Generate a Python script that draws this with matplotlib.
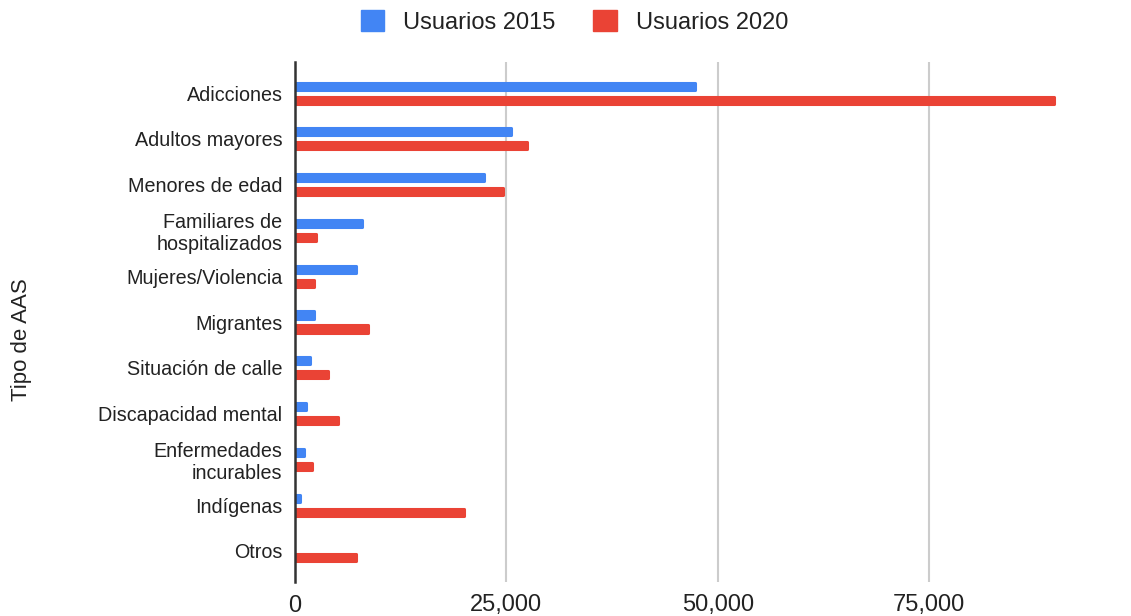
import matplotlib
matplotlib.use("Agg")
import matplotlib.pyplot as plt
from matplotlib.patches import FancyBboxPatch
import numpy as np

plt.rcParams['font.family'] = ['Liberation Sans', 'DejaVu Sans']

categorias = ["Adicciones", "Adultos mayores", "Menores de edad",
              "Familiares de\nhospitalizados", "Mujeres/Violencia", "Migrantes",
              "Situación de calle", "Discapacidad mental",
              "Enfermedades\nincurables", "Indígenas", "Otros"]
usuarios_2015 = [47300, 25500, 22400, 7950, 7250, 2250, 1770, 1300, 1060, 590, 0]
usuarios_2020 = [89800, 27400, 24550, 2450, 2250, 8650, 3900, 5080, 1980, 20000, 7200]
xticks = [0, 25000, 50000, 75000]

azul = "#4285f4"
rojo = "#ea4335"
texto = "#222222"

fig = plt.figure(figsize=(11.31, 6.16), dpi=100)
ax = fig.add_axes([295 / 1131, 34 / 616, 815 / 1131, 520 / 616])

y = np.arange(len(categorias))
off = 0.153
h = 0.155
b1 = ax.barh(y - off, usuarios_2015, height=h, color=azul, edgecolor=azul,
             linewidth=2.2, zorder=3)
b2 = ax.barh(y + off, usuarios_2020, height=h, color=rojo, edgecolor=rojo,
             linewidth=2.2, zorder=3)
for p in list(b1) + list(b2):
    p.set_joinstyle("round")
    if p.get_width() == 0:
        p.set_visible(False)

ax.set_ylim(len(categorias) - 1 + 0.68, -0.68)
ax.set_xlim(0, 96400)
ax.set_yticks(y)
ax.set_yticklabels(categorias, fontsize=14.2, color=texto, ha="right",
                   linespacing=1.2)
ax.set_xticks(xticks)
ax.set_xticklabels([f"{v:,}" for v in xticks], fontsize=17, color=texto)
ax.tick_params(axis="both", length=0)
ax.tick_params(axis="y", pad=9)
ax.tick_params(axis="x", pad=9)

ax.grid(axis="x", color="#cccccc", linewidth=1.5, zorder=0)
ax.xaxis.get_gridlines()[0].set_visible(False)
for s in ["top", "right", "bottom"]:
    ax.spines[s].set_visible(False)
ax.spines["left"].set_color("#333333")
ax.spines["left"].set_linewidth(1.8)
ax.spines["left"].set_zorder(4)

fig.text(22 / 1131, 1 - 340 / 616, "Tipo de AAS", rotation=90, fontsize=16,
         color=texto, ha="center", va="center")

# legend
handles = [FancyBboxPatch((0, 0), 1, 1, boxstyle="round,pad=0,rounding_size=0.15",
                          color=c) for c in (azul, rojo)]
fig.legend(handles, ["Usuarios 2015", "Usuarios 2020"], loc="center",
           bbox_to_anchor=(0.508, 1 - 22 / 616), ncol=2, frameon=False,
           fontsize=17, handlelength=1.0, handleheight=1.0, handletextpad=0.8,
           columnspacing=1.6, labelcolor=texto)

fig.savefig("out.png", dpi=100)
